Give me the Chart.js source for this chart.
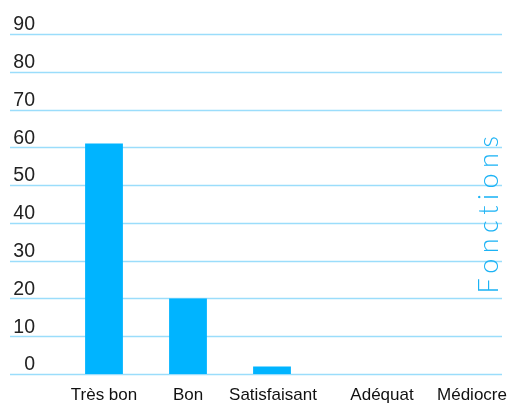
<!DOCTYPE html>
<html>
<head>
<meta charset="utf-8">
<script src="https://cdn.jsdelivr.net/npm/chart.js@4"></script>
<style>
html,body{margin:0;padding:0;background:#fff;}
#wrap{width:512px;height:403px;}
</style>
</head>
<body>
<div id="wrap"><canvas id="c" width="512" height="403"></canvas></div>
<script>
const categories = ["Très bon", "Bon", "Satisfaisant", "Adéquat", "Médiocre"];
const fonctions = [61, 20, 2, 0, 0];
const yTicks = [0, 10, 20, 30, 40, 50, 60, 70, 80, 90];
const axisTitle = "Fonctions";

const gridPlugin = {
  id: 'fullGrid',
  beforeDatasetsDraw(chart) {
    const ctx = chart.ctx, y = chart.scales.y;
    ctx.save();
    ctx.strokeStyle = '#9BDDFB';
    ctx.lineWidth = 1.6;
    y.ticks.forEach(t => {
      const py = Math.round(y.getPixelForValue(t.value)) + 0.5;
      ctx.beginPath();
      ctx.moveTo(10, py);
      ctx.lineTo(502, py);
      ctx.stroke();
    });
    ctx.restore();
  }
};
// category labels, drawn under each category with the reference's uneven nudges
const labelNudge = [0, 0, 1, 26, 32];
const xLabelPlugin = {
  id: 'xLabels',
  afterDraw(chart) {
    const ctx = chart.ctx, x = chart.scales.x;
    ctx.save();
    ctx.font = '17px "Liberation Sans"';
    ctx.fillStyle = '#111';
    ctx.textAlign = 'center';
    ctx.textBaseline = 'alphabetic';
    chart.data.labels.forEach((lab, i) => {
      ctx.fillText(lab, x.getPixelForTick(i) + (labelNudge[i] || 0), 400);
    });
    ctx.restore();
  }
};
const titlePlugin = {
  id: 'sideTitle',
  afterDraw(chart) {
    const ctx = chart.ctx;
    ctx.save();
    ctx.translate(498, 212);
    ctx.rotate(-Math.PI / 2);
    ctx.font = '300 27px Lato';
    ctx.letterSpacing = '5.5px';
    ctx.fillStyle = '#1CB3F5';
    ctx.textAlign = 'center';
    ctx.textBaseline = 'alphabetic';
    ctx.fillText(axisTitle, 0, 0);
    ctx.restore();
  }
};

new Chart(document.getElementById('c'), {
  type: 'bar',
  data: {
    labels: categories,
    datasets: [{
      label: axisTitle,
      data: fonctions,
      backgroundColor: '#00B4FF',
      borderWidth: 0,
      barPercentage: 0.45,
      categoryPercentage: 1.0
    }]
  },
  options: {
    responsive: false,
    animation: false,
    layout: { padding: { top: 34, right: 30, left: 0, bottom: 0 } },
    plugins: { legend: { display: false }, tooltip: { enabled: false } },
    scales: {
      x: {
        grid: { display: false },
        border: { display: false },
        ticks: { display: false },
        afterFit(s) { s.height = 29; }
      },
      y: {
        min: 0, max: 90,
        afterBuildTicks(s) { s.ticks = yTicks.map(v => ({ value: v })); },
        grid: { display: false, drawTicks: false },
        border: { display: false },
        ticks: { color: '#222', font: { family: 'Liberation Sans', size: 19.5 }, padding: 27, labelOffset: -9 },
        afterFit(s) { s.width = 62; s.paddingTop = 0; s.paddingBottom = 0; }
      }
    }
  },
  plugins: [gridPlugin, xLabelPlugin, titlePlugin]
});
</script>
</body>
</html>
